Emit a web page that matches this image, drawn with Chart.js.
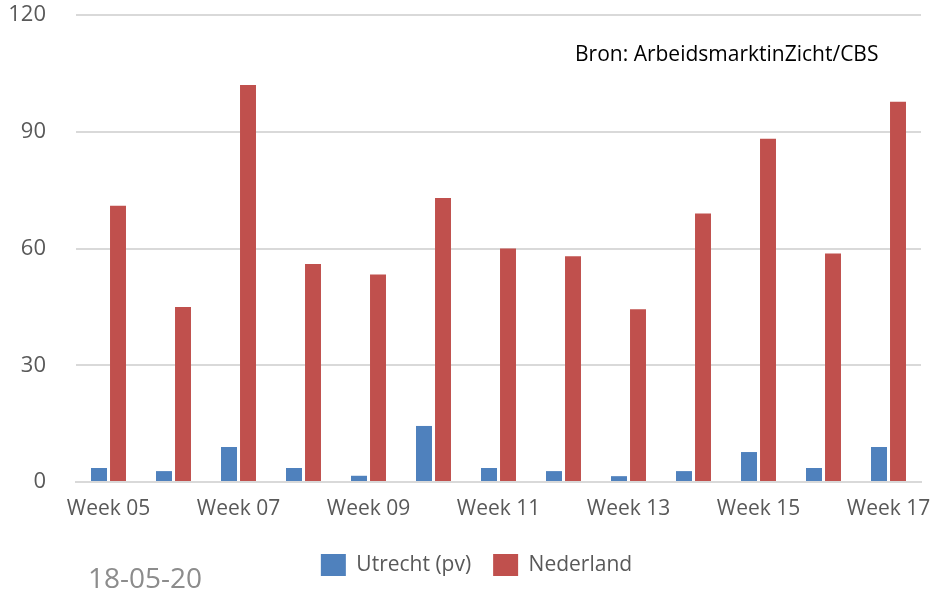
<!DOCTYPE html>
<html>
<head>
<meta charset="utf-8">
<script src="https://cdn.jsdelivr.net/npm/chart.js@4"></script>
<style>
  html, body { margin: 0; padding: 0; background: #fff; }
  #wrap { width: 935px; height: 593px; position: relative; }
</style>
</head>
<body>
<div id="wrap"><canvas id="chart"></canvas></div>
<script>
// data
const weeks = ['Week 05', 'Week 06', 'Week 07', 'Week 08', 'Week 09', 'Week 10', 'Week 11',
               'Week 12', 'Week 13', 'Week 14', 'Week 15', 'Week 16', 'Week 17'];
const utrecht = [3.6, 2.8, 9, 3.6, 1.6, 14.4, 3.6, 2.8, 1.5, 2.8, 7.7, 3.6, 9];
const nederland = [71, 45, 102, 56, 53.3, 73, 60, 58, 44.4, 69, 88.2, 58.7, 97.7];
const yTicks = [0, 30, 60, 90, 120];

const font = "'Open Sans', 'Noto Sans', sans-serif";

// extra texts: source line and date
const extraText = {
    id: 'extraText',
    afterDraw(chart) {
        const ctx = chart.ctx;
        ctx.save();
        ctx.fillStyle = '#000';
        ctx.font = '21px ' + font;
        ctx.textBaseline = 'middle';
        ctx.textAlign = 'left';
        ctx.fillText('Bron: ArbeidsmarktinZicht/CBS', 575, 55);
        ctx.fillStyle = '#8c8c8c';
        ctx.font = '28px ' + font;
        ctx.fillText('18-05-20', 88, 580);
        ctx.restore();
    }
};

// legend sits a bit right of the canvas centre in the original
const legendShift = {
    id: 'legendShift',
    afterLayout(chart) {
        chart.legend.left += 32;
    }
};

new Chart(document.getElementById('chart'), {
    type: 'bar',
    data: {
        labels: weeks,
        datasets: [
            {
                label: 'Utrecht (pv)',
                data: utrecht,
                backgroundColor: '#4f81bd',
                barPercentage: 0.84,
                categoryPercentage: 0.585
            },
            {
                label: 'Nederland',
                data: nederland,
                backgroundColor: '#c0504d',
                barPercentage: 0.84,
                categoryPercentage: 0.585
            }
        ]
    },
    options: {
        responsive: true,
        maintainAspectRatio: false,
        animation: false,
        layout: { padding: { top: 15, right: 14, left: 0, bottom: 7 } },
        plugins: {
            legend: {
                position: 'bottom',
                labels: {
                    boxWidth: 25,
                    boxHeight: 22,
                    padding: 22,
                    color: '#595959',
                    font: { family: font, size: 21 }
                }
            },
            tooltip: { enabled: false }
        },
        scales: {
            x: {
                grid: { display: false, drawTicks: false },
                border: { color: '#d9d9d9', width: 2 },
                ticks: {
                    color: '#595959',
                    font: { family: font, size: 21 },
                    autoSkip: false,
                    maxRotation: 0,
                    padding: 14,
                    callback: function (v, i) { return i % 2 === 0 ? weeks[i] : ''; }
                },
                afterFit(s) {
                    s.height = 50;
                    s.paddingLeft = 0;
                    s.paddingRight = 0;
                }
            },
            y: {
                min: 0,
                max: 120,
                afterBuildTicks(s) { s.ticks = yTicks.map(v => ({ value: v })); },
                grid: { color: '#d9d9d9', lineWidth: 2, drawTicks: false },
                border: { display: false },
                ticks: {
                    color: '#595959',
                    font: { family: font, size: 22 },
                    padding: 30
                },
                afterFit(s) {
                    s.width = 76;
                    s.paddingTop = 0;
                    s.paddingBottom = 0;
                }
            }
        }
    },
    plugins: [extraText, legendShift]
});
</script>
</body>
</html>
